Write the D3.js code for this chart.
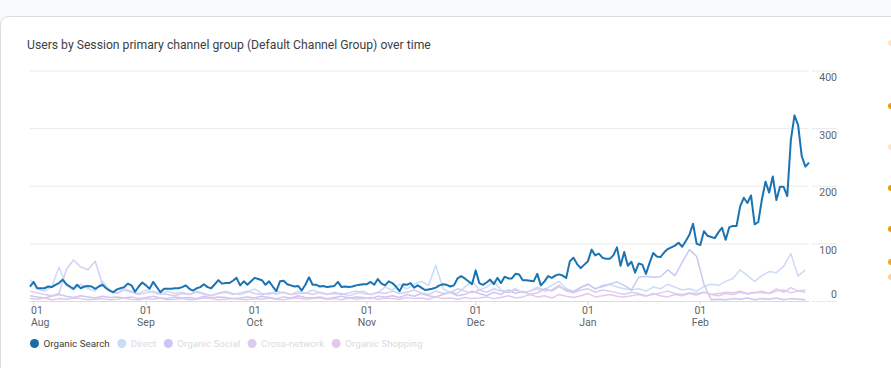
<!DOCTYPE html>
<html>
<head>
<meta charset="utf-8">
<script src="https://cdn.jsdelivr.net/npm/d3@7"></script>
<style>
  html, body { margin: 0; padding: 0; background: #f8f9fa; }
  svg { display: block; }
</style>
</head>
<body>
<div id="chart"></div>
<script>
// Users per day, 31 Jul 2023 -> 2 Mar 2024 (one value per day)
const startDay = '2023-07-31';
const organicSearch = [
  26,34,23,23,23,26,25,29,32,38,30,26,22,29,23,26,27,26,22,26,
  29,23,19,16,21,23,25,31,28,17,26,33,28,22,34,25,16,22,22,22,
  23,23,25,28,22,19,23,25,30,25,23,30,37,31,32,32,36,41,28,35,
  29,35,41,39,37,29,35,26,18,35,36,30,28,26,27,19,29,42,29,29,
  26,27,25,26,27,34,25,26,25,26,28,29,30,30,34,29,39,31,28,35,
  32,26,18,30,29,32,24,28,24,20,21,22,24,28,30,29,26,28,40,44,
  40,35,30,54,32,29,33,38,30,41,32,43,40,40,48,47,37,37,36,35,
  48,28,35,44,41,45,47,45,41,70,76,65,58,64,70,90,80,83,76,74,
  74,80,94,62,86,62,69,50,66,64,48,67,84,78,77,85,91,94,97,102,
  95,105,116,135,100,98,122,114,112,110,120,128,107,129,131,131,165,180,171,184,
  134,138,177,208,189,217,176,199,199,183,281,323,306,252,234,241
];

// the fainter channels, one value every second day
const direct = [
  38,22,18,25,60,28,20,30,22,18, 35,20,15,22,18,14,20,15,12,18,
  14,16,12,18,14,10,15,18,14,12, 16,22,14,12,18,15,12,18,14,20,
  15,12,16,14,10,14,18,12,15,25, 20,30,22,30,35,28,63,22,16,14,
  25,35,20,25,35,20,18,22,15,18, 25,20,28,35,22,18,25,30,22,28,
  30,25,22,20,22,18,25,22,30,25, 20,22,18,26,30,28,35,40,55,45,
  35,45,52,50,61,83,44,55
];
const organicSocial = [
  10,8,6,9,12,9,7,10,8,6, 9,7,8,6,8,5,7,9,6,5,
  8,6,7,5,9,6,8,7,5,6, 8,6,9,7,5,8,6,10,7,6,
  8,5,7,9,6,8,7,5,9,8, 10,7,12,9,14,10,8,12,16,10,
  12,18,14,10,16,12,20,14,18,12, 15,22,18,26,20,16,24,30,22,26,
  30,34,28,20,42,44,42,43,55,45, 68,90,78,30,3,4,3,5,4,6,
  3,5,4,6,3,5,4,3
];
const crossNetwork = [
  18,15,12,10,14,55,72,60,55,70, 30,18,14,20,16,12,15,18,14,12,
  10,14,12,16,13,10,14,16,12,15, 18,14,12,15,13,16,12,14,15,12,
  16,13,14,12,15,18,14,12,16,14, 18,14,16,20,15,12,18,14,16,22,
  18,15,20,16,22,18,15,20,16,18, 22,18,20,28,18,15,20,22,16,20,
  18,15,12,16,14,10,12,15,18,14, 12,15,14,16,12,14,16,15,18,14,
  16,15,14,18,20,15,18,16
];
const organicShopping = [
  5,4,6,3,5,4,6,5,3,4, 5,3,4,6,4,3,5,4,6,3,
  4,5,3,4,6,5,3,4,5,4, 3,5,4,6,4,3,5,6,4,5,
  6,4,5,3,6,4,5,7,4,6, 5,4,7,5,6,4,8,5,6,4,
  7,5,6,8,5,7,10,6,8,12, 8,10,6,12,9,7,10,14,8,10,
  12,9,8,10,12,9,14,10,8,12, 10,14,11,16,12,10,14,12,16,13,
  15,18,14,22,16,24,18,20
];

const channelNames = ['Organic Search', 'Direct', 'Organic Social', 'Cross-network', 'Organic Shopping'];
const channelColors = ['#1a74b3', '#c9dcf8', '#c9c8f4', '#dccbf1', '#e2c9ea'];
const legendText = ['#3c4043', '#dadce0', '#dadce0', '#dadce0', '#dadce0'];
const yTicks = [0, 100, 200, 300, 400];
const monthTicks = ['2023-08-01', '2023-09-01', '2023-10-01', '2023-11-01', '2023-12-01', '2024-01-01', '2024-02-01'];
const title = 'Users by Session primary channel group (Default Channel Group) over time';

const width = 891, height = 368;
const parse = d3.timeParse('%Y-%m-%d');
const day0 = parse(startDay);

const toSeries = (values, step) => values.map((v, i) => ({ date: d3.timeDay.offset(day0, i * step), value: v }));
const series = [
  { name: channelNames[1], color: channelColors[1], data: toSeries(direct, 2) },
  { name: channelNames[2], color: channelColors[2], data: toSeries(organicSocial, 2) },
  { name: channelNames[3], color: channelColors[3], data: toSeries(crossNetwork, 2) },
  { name: channelNames[4], color: channelColors[4], data: toSeries(organicShopping, 2) },
  { name: channelNames[0], color: channelColors[0], data: toSeries(organicSearch, 1), main: true }
];

const svg = d3.select('#chart').append('svg')
  .attr('width', width)
  .attr('height', height);

// card
svg.append('rect')
  .attr('x', 0.5).attr('y', 16.5)
  .attr('width', width + 20).attr('height', height)
  .attr('rx', 8)
  .attr('fill', '#fff')
  .attr('stroke', '#dadce0');

svg.append('text')
  .attr('x', 27).attr('y', 49)
  .style('font-family', 'Roboto, sans-serif')
  .style('font-size', '12.2px')
  .style('fill', '#3c4043')
  .text(title);

const xScale = d3.scaleTime()
  .domain([day0, d3.timeDay.offset(day0, organicSearch.length - 1)])
  .range([30, 809]);

const yScale = d3.scaleLinear()
  .domain([0, 400])
  .range([301.5, 71]);

// grid
const grid = svg.append('g');
yTicks.forEach(t => {
  grid.append('line')
    .attr('x1', 30).attr('x2', 809)
    .attr('y1', yScale(t)).attr('y2', yScale(t))
    .attr('stroke', t === 0 ? '#dadce0' : '#e8eaed');
  grid.append('line')
    .attr('x1', 812).attr('x2', 837)
    .attr('y1', yScale(t)).attr('y2', yScale(t))
    .attr('stroke', '#e8eaed');
  grid.append('text')
    .attr('x', 837)
    .attr('y', t === 0 ? yScale(t) - 4 : yScale(t) + 10)
    .attr('text-anchor', 'end')
    .style('font-family', 'Roboto, sans-serif')
    .style('font-size', '10.5px')
    .style('fill', '#5f6368')
    .text(t);
});

// x axis
const fmtDay = d3.timeFormat('%d');
const fmtMonth = d3.timeFormat('%b');
const xAxis = svg.append('g');
monthTicks.map(parse).forEach((d, i) => {
  const x = xScale(d);
  xAxis.append('line')
    .attr('x1', x).attr('x2', x)
    .attr('y1', 301.5).attr('y2', 305)
    .attr('stroke', '#dadce0');
  const anchor = i === 0 ? 'start' : 'middle';
  const tx = i === 0 ? 31 : x;
  xAxis.append('text')
    .attr('x', tx).attr('y', 314)
    .attr('text-anchor', anchor)
    .style('font-family', 'Roboto, sans-serif')
    .style('font-size', '10.5px')
    .style('fill', '#5f6368')
    .text(fmtDay(d));
  xAxis.append('text')
    .attr('x', tx).attr('y', 325.5)
    .attr('text-anchor', anchor)
    .style('font-family', 'Roboto, sans-serif')
    .style('font-size', '10.5px')
    .style('fill', '#5f6368')
    .text(fmtMonth(d));
});

// lines
const line = d3.line()
  .x(d => xScale(d.date))
  .y(d => yScale(d.value));

svg.append('g').selectAll('path')
  .data(series)
  .enter().append('path')
  .attr('fill', 'none')
  .attr('stroke', d => d.color)
  .attr('stroke-width', d => d.main ? 2 : 1.5)
  .attr('stroke-linejoin', 'round')
  .attr('d', d => line(d.data));

// legend
const legend = svg.append('g').attr('transform', 'translate(0, 343.5)');
let lx = 34.5;
channelNames.forEach((name, i) => {
  legend.append('circle')
    .attr('cx', lx).attr('cy', 0)
    .attr('r', 4.5)
    .attr('fill', i === 0 ? '#1a6aa8' : channelColors[i]);
  const t = legend.append('text')
    .attr('x', lx + 9).attr('y', 3.6)
    .style('font-family', 'Roboto, sans-serif')
    .style('font-size', '9.8px')
    .style('fill', legendText[i])
    .text(name);
  lx += 9 + t.node().getComputedTextLength() + 12;
});

// bits of the next card's legend peeking in at the right edge
const edge = svg.append('g');
[[43, '#fde3c4'], [106, '#f29900'], [147, '#fde3c4'], [188, '#f29900'], [229, '#f29900'], [262, '#f5a623'], [277, '#fbd29a']]
  .forEach(([y, c]) => {
    edge.append('circle').attr('cx', 891).attr('cy', y).attr('r', 3).attr('fill', c);
  });
</script>
</body>
</html>
